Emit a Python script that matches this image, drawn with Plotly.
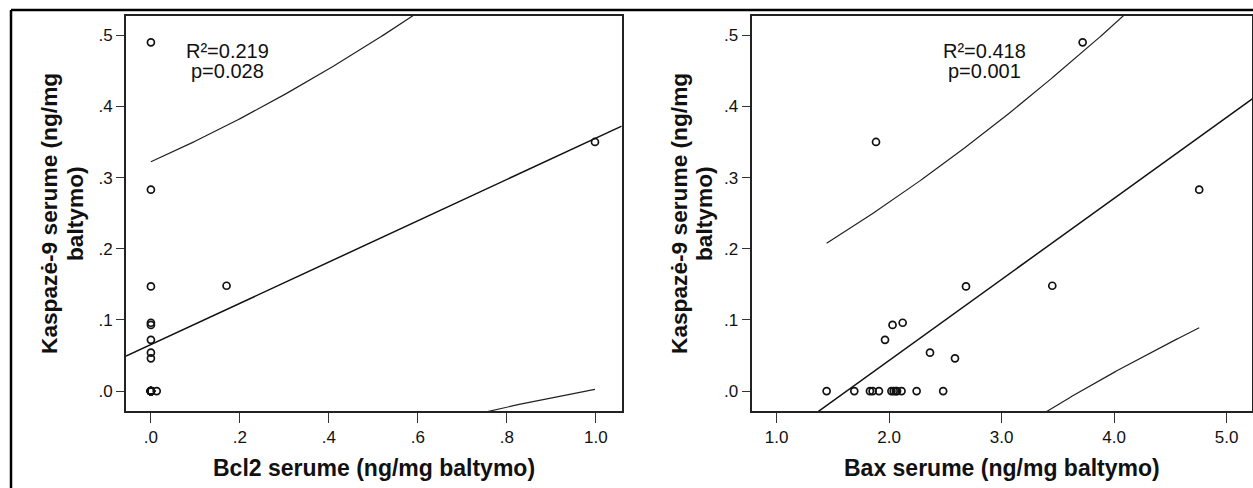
import numpy as np
import plotly.graph_objects as go

W, H = 1253, 488

# Kaspazė-9 serum level per patient (ng/mg baltymo)
kaspaze9 = [0.490, 0.350, 0.283, 0.148, 0.147, 0.096, 0.093, 0.072, 0.054, 0.046,
            0.000, 0.000, 0.000, 0.000, 0.000, 0.000, 0.000, 0.000, 0.000, 0.000, 0.000, 0.000]
# Bcl2 serum level, same patients
bcl2 = [0.000, 0.998, 0.000, 0.170, 0.000, 0.000, 0.000, 0.000, 0.000, 0.000,
        0.000, 0.000, 0.000, 0.000, 0.000, 0.000, 0.000, 0.000, 0.000, 0.000, 0.000, 0.013]
# Bax serum level, same patients
bax = [3.720, 1.883, 4.756, 3.450, 2.683, 2.120, 2.030, 1.963, 2.363, 2.585,
       1.444, 1.690, 1.829, 1.853, 1.909, 2.020, 2.040, 2.060, 2.070, 2.110, 2.244, 2.480]

stats_left = ["R²=0.219", "p=0.028"]
stats_right = ["R²=0.418", "p=0.001"]

y_ticks = [0.0, 0.1, 0.2, 0.3, 0.4, 0.5]
y_ticktext = [".0", ".1", ".2", ".3", ".4", ".5"]
x_left_ticks = [0.0, 0.2, 0.4, 0.6, 0.8, 1.0]
x_left_ticktext = [".0", ".2", ".4", ".6", ".8", "1.0"]
x_right_ticks = [1.0, 2.0, 3.0, 4.0, 5.0]
x_right_ticktext = ["1.0", "2.0", "3.0", "4.0", "5.0"]

y_title = ["Kaspazė-9 serume (ng/mg", "baltymo)"]
x_title_left = "Bcl2 serume (ng/mg baltymo)"
x_title_right = "Bax serume (ng/mg baltymo)"

T_CRIT = 2.086  # Student t, 0.975 quantile, 20 df

FONT = "Arial, Liberation Sans, sans-serif"


def fit_with_prediction_band(x, y, x_axis_range):
    x = np.asarray(x, float)
    y = np.asarray(y, float)
    n = len(x)
    slope, intercept = np.polyfit(x, y, 1)
    resid = y - (intercept + slope * x)
    s = np.sqrt(np.sum(resid ** 2) / (n - 2))
    sxx = np.sum((x - x.mean()) ** 2)
    xl = np.array(x_axis_range)
    yl = intercept + slope * xl
    xb = np.linspace(x.min(), x.max(), 200)
    yb = intercept + slope * xb
    half = T_CRIT * s * np.sqrt(1 + 1 / n + (xb - x.mean()) ** 2 / sxx)
    return xl, yl, xb, yb + half, yb - half


def px_x(p):
    return p / W


def px_y(p):
    return 1 - p / H


fig = go.Figure()

x_left_range = [-0.056, 1.058]
x_right_range = [0.778, 5.228]
y_range = [-0.028, 0.527]

for xdata, xa, ya, xr in [(bcl2, "x", "y", x_left_range), (bax, "x2", "y2", x_right_range)]:
    xl, yl, xb, up, lo = fit_with_prediction_band(xdata, kaspaze9, xr)
    fig.add_trace(go.Scatter(x=xb, y=up, mode="lines", line=dict(color="#222222", width=1.2),
                             xaxis=xa, yaxis=ya, hoverinfo="skip"))
    fig.add_trace(go.Scatter(x=xb, y=lo, mode="lines", line=dict(color="#222222", width=1.2),
                             xaxis=xa, yaxis=ya, hoverinfo="skip"))
    fig.add_trace(go.Scatter(x=xl, y=yl, mode="lines", line=dict(color="#111111", width=1.5),
                             xaxis=xa, yaxis=ya, hoverinfo="skip"))
    fig.add_trace(go.Scatter(x=xdata, y=kaspaze9, mode="markers",
                             marker=dict(symbol="circle-open", size=7, color="#111111",
                                         line=dict(width=1.7, color="#111111")),
                             xaxis=xa, yaxis=ya, cliponaxis=False))

axis_common = dict(showline=True, linewidth=2, linecolor="#222222", mirror=True,
                   showgrid=False, zeroline=False, ticks="outside", tickcolor="#333333",
                   tickwidth=1, tickfont=dict(family=FONT, size=17, color="#111111"))

fig.update_layout(
    width=W, height=H,
    margin=dict(l=0, r=0, t=0, b=0),
    paper_bgcolor="white", plot_bgcolor="white",
    showlegend=False,
    xaxis=dict(domain=[px_x(126), px_x(621.7)], range=x_left_range, anchor="y",
               tickvals=x_left_ticks, ticktext=x_left_ticktext, ticklen=10, **axis_common),
    yaxis=dict(domain=[px_y(411), px_y(16)], range=y_range, anchor="x",
               tickvals=y_ticks, ticktext=y_ticktext, ticklen=8, **axis_common),
    xaxis2=dict(domain=[px_x(751.7), px_x(1252.3)], range=x_right_range, anchor="y2",
                tickvals=x_right_ticks, ticktext=x_right_ticktext, ticklen=10, **axis_common),
    yaxis2=dict(domain=[px_y(411), px_y(16)], range=y_range, anchor="x2",
                tickvals=y_ticks, ticktext=y_ticktext, ticklen=8, **axis_common),
)

annotations = []
# regression statistics, one annotation per line
for cx, lines in [(227, stats_left), (984, stats_right)]:
    for cy, txt in zip([51, 71], lines):
        annotations.append(dict(x=px_x(cx), y=px_y(cy), xref="paper", yref="paper", text=txt,
                                showarrow=False, xanchor="center", yanchor="middle",
                                font=dict(family=FONT, size=20, color="#111111")))
# axis titles
for cx, txt in [(374, x_title_left), (1002, x_title_right)]:
    annotations.append(dict(x=px_x(cx), y=px_y(468), xref="paper", yref="paper",
                            text="<b>%s</b>" % txt, showarrow=False,
                            xanchor="center", yanchor="middle",
                            font=dict(family=FONT, size=23, color="#111111")))
for xs in [(49, 75), (679, 704)]:
    for cx, txt in zip(xs, y_title):
        annotations.append(dict(x=px_x(cx), y=px_y(214), xref="paper", yref="paper",
                                text="<b>%s</b>" % txt, showarrow=False, textangle=-90,
                                xanchor="center", yanchor="middle",
                                font=dict(family=FONT, size=22.7, color="#111111")))
fig.update_layout(annotations=annotations)

# outer frame around both panels
fig.add_shape(type="line", xref="paper", yref="paper",
              x0=px_x(11), y0=px_y(10), x1=px_x(1260), y1=px_y(10),
              line=dict(color="black", width=2.5))
fig.add_shape(type="line", xref="paper", yref="paper",
              x0=px_x(11), y0=px_y(10), x1=px_x(11), y1=px_y(495),
              line=dict(color="black", width=2.5))

fig.write_html("out.html")
